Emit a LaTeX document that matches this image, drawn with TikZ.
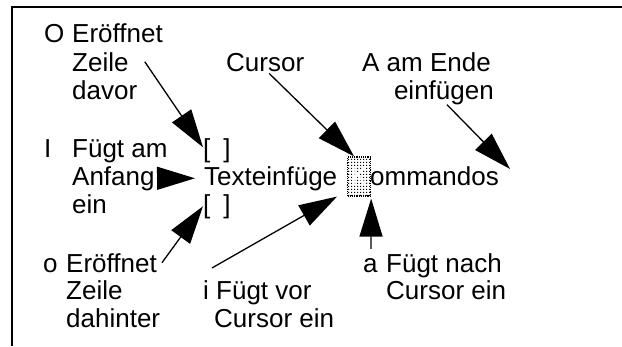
\documentclass[tikz,border=0pt]{standalone}
\usepackage{fontspec}
\setmainfont{Liberation Sans}
\usetikzlibrary{arrows.meta,patterns}
\pgfdeclarepatternformonly{cursordots}{\pgfqpoint{0pt}{0pt}}{\pgfqpoint{3pt}{3pt}}{\pgfqpoint{3pt}{3pt}}{%
  \pgfpathrectangle{\pgfqpoint{0pt}{0pt}}{\pgfqpoint{1.6pt}{1.6pt}}\pgfusepath{fill}}
\begin{document}
\begin{tikzpicture}[x=1pt,y=1pt,
  lbl/.style={inner sep=0pt,anchor=base west,font=\fontsize{26pt}{30pt}\selectfont},
  lble/.style={lbl,anchor=base east},
  arr/.style={line width=1.3pt,-{Triangle[length=38pt,width=23pt]}},
  frame/.style={line width=2.5pt},
  cursorbox/.style={lbl,pattern=cursordots,pattern color=black,text=white,
    draw=black,densely dotted,line width=1.2pt,
    text height=28pt,text depth=11pt,inner ysep=0pt,inner xsep=2.8pt}]
\useasboundingbox (0,0) rectangle (622,-346);
\draw[frame] (12,-346) -- (12,-7) -- (622,-7);
% labels
\node[lbl] (O1) at (44,-42) {\makebox[28pt][l]{O}Eröffnet};
\node[lbl] (O2) at (72,-71) {Zeile};
\node[lbl] (O3) at (72,-99) {davor};
\node[lbl] (cur) at (226,-71) {Cursor};
\node[lbl] (A1) at (362,-71) {A am Ende};
\node[lble] (A2) at (494,-99) {einfügen};
\node[lbl] (I1) at (44,-157) {\makebox[28pt][l]{I}Fügt am};
\node[lbl] (An) at (72,-185) {Anfang};
\node[lbl] (ein) at (72,-213) {ein};
\node[lbl] (b1) at (203,-157) {[\hspace{13pt}]};
\node[lbl] (b2) at (203,-213) {[\hspace{13pt}]};
\node[lbl] (tx) at (204,-185) {Texteinfüge};
\node[cursorbox] (k) at (347,-185) {K};
\node[lbl] (om) at (370,-185) {ommandos};
\node[lbl] (o1) at (43,-272) {\makebox[23pt][l]{o}Eröffnet};
\node[lbl] (o2) at (66,-299) {Zeile};
\node[lbl] (o3) at (66,-327) {dahinter};
\node[lbl] (i1) at (203,-299) {i Fügt vor};
\node[lbl] (i2) at (214,-327) {Cursor ein};
\node[lbl] (a1) at (363,-272) {\makebox[23pt][l]{a}Fügt nach};
\node[lbl] (a2) at (386,-299) {Cursor ein};
% arrows
\draw[arr] ([xshift=16pt]O2.east) -- ([yshift=3pt]b1.west);
\draw[arr] ([shift={(4pt,-2pt)}]cur.south) -- ([xshift=-5pt]k.north);
\draw[arr] ([xshift=3pt]A2.south) -- ([shift={(11pt,-3pt)}]om.north east);
\draw[arr] ([xshift=2pt]An.east) -- ([xshift=-9pt]tx.west);
\draw[arr] ([xshift=5pt]o1.east) -- (b2.west);
\draw[arr] ([shift={(9pt,12pt)}]i1.north west) -- ([xshift=-10pt]k.south west);
\draw[arr] ([shift={(8pt,4pt)}]a1.north west) -- ([yshift=-2pt]k.south east);
\end{tikzpicture}
\end{document}
